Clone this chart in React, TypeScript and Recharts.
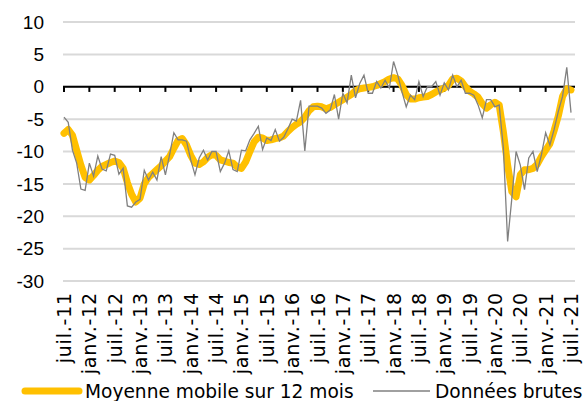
import { CartesianGrid, Legend, Line, LineChart, ReferenceLine, XAxis, YAxis } from "recharts";

const moisNoms = ["janv.", "févr.", "mars", "avr.", "mai", "juin", "juil.", "août", "sept.", "oct.", "nov.", "déc."];

// juil.-11 .. juil.-21, one label per month
const mois: string[] = [];
for (let k = 0; k < 121; k++) {
    const m = (6 + k) % 12;
    const an = 11 + Math.floor((6 + k) / 12);
    mois.push(`${moisNoms[m]}-${an}`);
}

const donneesBrutes = [
    -4.7, -5.5, -9.8, -11.8, -15.8, -16, -11.8, -13.8, -10.7, -12.7, -13, -10.4,
    -10.6, -13.5, -12.6, -18.4, -18.6, -17.8, -17.4, -12.9, -14.4, -13.2, -14.4, -10.8,
    -13.6, -10.5, -7.1, -8.2, -8.2, -8.4, -11.3, -13.6, -11, -9.8, -11.3, -10,
    -10, -13.1, -11.8, -9.9, -12.8, -13.1, -9.8, -9.9, -8.2, -7.2, -6.1, -9.7,
    -7.9, -8.3, -6.6, -8.4, -7.8, -6.5, -5, -5.3, -2.1, -9.9, -3, -3,
    -3, -3.3, -4.1, -3.6, -1.2, -5, -1, -2.5, 1.8, -1.7, 0.5, 1.8,
    -1, -1, 0.8, -0.2, 1, -0.2, 3.9, 1.8, -0.8, -3.1, -1.3, -2,
    0.8, -1.5, 0, 0, 0.8, -1.3, 0.6, -0.5, 1.8, 0, 1, -1,
    -1, -1.3, -2.8, -4.8, -2, -2, -3.1, -2.8, -9.5, -23.9, -17.2, -10,
    -12.1, -15.9, -11, -10, -13.1, -10.5, -7.1, -9, -6.6, -3.8, -1.5, 3,
    -4,
];

const moyenneMobile = [
    -7.2, -6.6, -7.5, -9.8, -12.1, -14, -14.4, -13.7, -12.9, -12.3, -12, -11.7,
    -11.5, -11.7, -12.6, -14.8, -16.6, -17.8, -17.2, -15, -14, -13.4, -12.8, -12.2,
    -11.5, -10.8, -9.5, -8.3, -8, -9, -10.6, -11.8, -12, -11.6, -10.9, -10.5,
    -10.6, -11.3, -11.5, -11.7, -11.8, -12.4, -12.6, -11.6, -10, -8.5, -7.8, -7.9,
    -8.3, -8.2, -8, -7.9, -7.6, -6.9, -6.3, -5.8, -5.4, -4.7, -3.7, -3.1,
    -3, -3.1, -3.4, -3.2, -2.8, -2.4, -2, -1.6, -1.2, -0.6, -0.3, -0.2,
    -0.1, 0, 0.2, 0.5, 0.8, 1.2, 1.4, 1.2, 0.2, -1.2, -1.9, -1.9,
    -1.7, -1.6, -1.5, -1.2, -0.8, -0.5, -0.2, 0.2, 1.2, 1.3, 0.9, 0,
    -0.7, -1.1, -1.6, -2.6, -3.3, -2.8, -2.4, -2.8, -7, -12.1, -16.2, -17,
    -13.6, -12.8, -12.8, -12.6, -12, -10.8, -9.8, -8.8, -6.8, -4.5, -1.5, -0.3,
    -0.5,
];

const yTicks = [-30, -25, -20, -15, -10, -5, 0, 5, 10];

const data = mois.map((m, i) => ({ mois: m, brut: donneesBrutes[i], moy: moyenneMobile[i] }));
const semestres = mois.filter((_, i) => i % 6 === 0);

const XTick = ({ x, y, payload }: any) => (
    <text
        x={x}
        y={y}
        transform={`rotate(-90 ${x} ${y})`}
        textAnchor="end"
        dominantBaseline="central"
        fontFamily="DejaVu Sans"
        fontSize={19}
        letterSpacing={0.8}
        fill="#000"
    >
        {payload.value}
    </text>
);

const LegendBox = () => (
    <div style={{ position: "relative", height: 20, fontFamily: "DejaVu Sans", fontSize: 18.6, lineHeight: "20px", color: "#000" }}>
        <svg width={62} height={20} style={{ position: "absolute", left: 21, top: 0 }}>
            <line x1={4} y1={10} x2={58} y2={10} stroke="#FFC000" strokeWidth={7} strokeLinecap="round" />
        </svg>
        <span style={{ position: "absolute", left: 85, top: 1, whiteSpace: "nowrap" }}>Moyenne mobile sur 12 mois</span>
        <svg width={60} height={20} style={{ position: "absolute", left: 372, top: 0 }}>
            <line x1={1} y1={10} x2={58} y2={10} stroke="#808080" strokeWidth={1.3} />
        </svg>
        <span style={{ position: "absolute", left: 435, top: 1, whiteSpace: "nowrap" }}>Données brutes</span>
    </div>
);

export default function App() {
    return (
        <div style={{ position: "absolute", left: 0, top: 0, width: 585, height: 401, background: "#fff" }}>
            <LineChart width={585} height={401} data={data} margin={{ top: 22, right: 10, left: 0, bottom: 0 }}>
                <CartesianGrid horizontal vertical={false} stroke="#d9d9d9" strokeWidth={2} />
                <XAxis
                    dataKey="mois"
                    interval={5}
                    height={100}
                    axisLine={false}
                    tickLine={false}
                    tickMargin={5}
                    tick={<XTick />}
                    padding={{ left: 1, right: 4 }}
                />
                <YAxis
                    width={63}
                    domain={[-30, 10]}
                    ticks={yTicks}
                    interval={0}
                    axisLine={false}
                    tickLine={false}
                    tickMargin={13}
                    tick={{ fontFamily: "Liberation Sans", fontSize: 19, fill: "#000" }}
                />
                <ReferenceLine y={0} stroke="#000" strokeWidth={2} />
                {semestres.map((m) => (
                    <ReferenceLine key={m} segment={[{ x: m, y: 0 }, { x: m, y: -0.8 }]} stroke="#000" strokeWidth={2} />
                ))}
                <Line type="linear" dataKey="moy" stroke="#FFC000" strokeWidth={7} strokeLinecap="round" strokeLinejoin="round" dot={false} isAnimationActive={false} />
                <Line type="linear" dataKey="brut" stroke="#808080" strokeWidth={1.3} dot={false} isAnimationActive={false} />
                <Legend verticalAlign="bottom" height={20} content={<LegendBox />} wrapperStyle={{ left: 0, bottom: 0, width: 585, height: 20 }} />
            </LineChart>
        </div>
    );
}
